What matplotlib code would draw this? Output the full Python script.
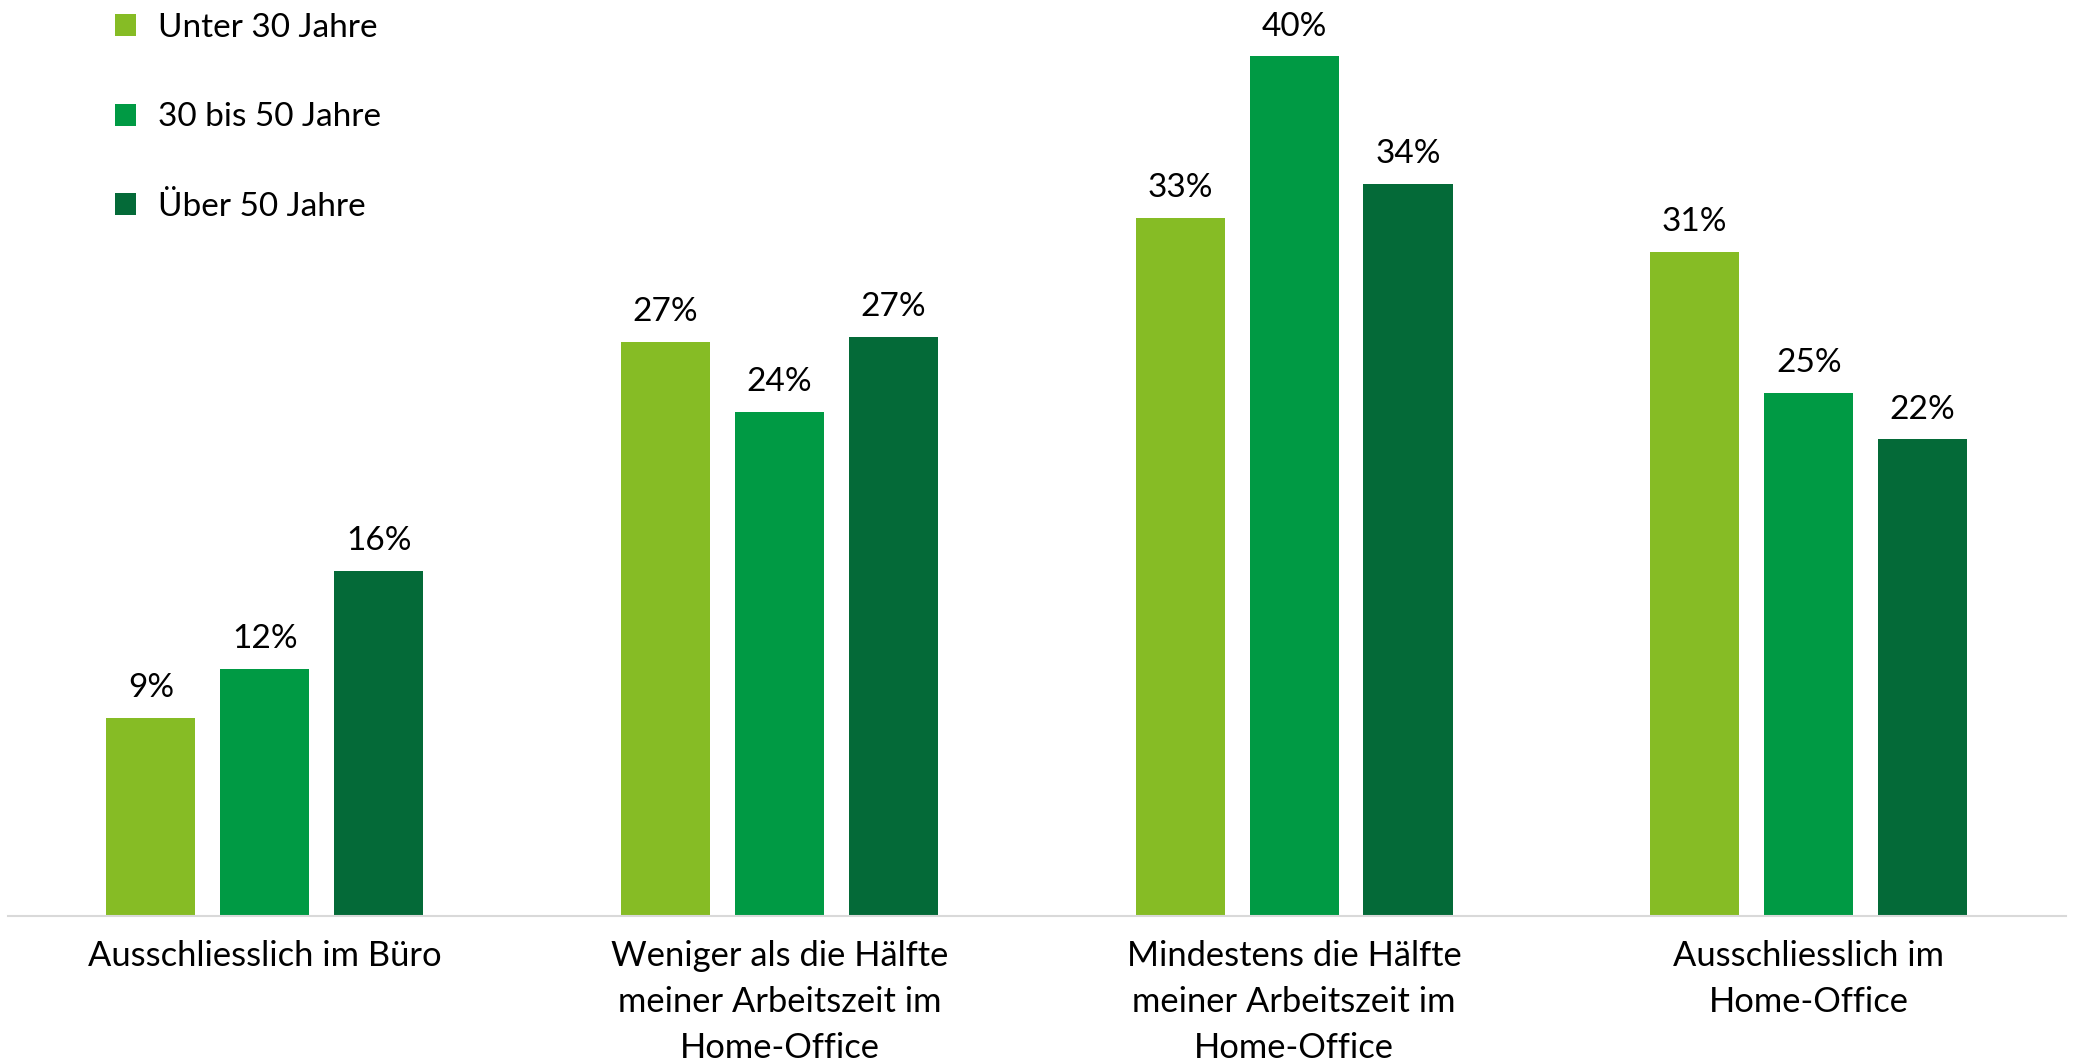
# Home-Office nach Altersgruppe: grouped bar chart

import matplotlib.pyplot as plt
import numpy as np
from matplotlib.patches import Patch

# ---------------------------------------------------------------------------
# Data
# ---------------------------------------------------------------------------
CATEGORIES = [
    "Ausschliesslich im Büro",
    "Weniger als die Hälfte\nmeiner Arbeitszeit im\nHome-Office",
    "Mindestens die Hälfte\nmeiner Arbeitszeit im\nHome-Office",
    "Ausschliesslich im\nHome-Office",
]
SERIES = ["Unter 30 Jahre", "30 bis 50 Jahre", "Über 50 Jahre"]
UNDER_30 = [9.3, 27.0, 32.8, 31.2]
FROM_30_TO_50 = [11.6, 23.7, 40.4, 24.6]
OVER_50 = [16.2, 27.2, 34.4, 22.4]

COLORS = ["#86BC25", "#009A44", "#046A38"]

# ---------------------------------------------------------------------------
# Figure
# ---------------------------------------------------------------------------
plt.rcParams["font.family"] = ["Lato", "DejaVu Sans"]

W, H = 2077, 1064
fig = plt.figure(figsize=(W / 100, H / 100), dpi=100)
ax = fig.add_axes([7.5 / W, (H - 916) / H, (2066 - 7.5) / W, 916 / H])

x = np.arange(len(CATEGORIES))
step = 0.2214
width = 0.173
values = [UNDER_30, FROM_30_TO_50, OVER_50]

for i, (vals, color) in enumerate(zip(values, COLORS)):
    pos = x + (i - 1) * step
    ax.bar(pos, vals, width=width, color=color, zorder=2)
    for px, v in zip(pos, vals):
        ax.annotate(f"{v:.0f}%", (px, v), xytext=(0, 15), textcoords="offset points",
                    ha="center", va="baseline", fontsize=24, color="#000000")

ax.set_xlim(-0.5, 3.5)
ax.set_ylim(0, 43.05)
ax.set_yticks([])
ax.set_xticks(x)
ax.set_xticklabels(CATEGORIES, fontsize=24.8, linespacing=1.55)
ax.tick_params(axis="x", length=0, pad=17)
for side in ["top", "right", "left"]:
    ax.spines[side].set_visible(False)
ax.spines["bottom"].set_color("#D9D9D9")
ax.spines["bottom"].set_linewidth(1.5)
ax.patch.set_alpha(0)

handles = [Patch(facecolor=c, label=s) for c, s in zip(COLORS, SERIES)]
fig.legend(handles=handles, loc="upper left", bbox_to_anchor=(115 / W, 1 - 13 / H),
           frameon=False, fontsize=24, handlelength=0.63, handleheight=0.63,
           handletextpad=0.65, labelspacing=1.78, borderpad=0, borderaxespad=0)

fig.savefig("out.png", dpi=100)
